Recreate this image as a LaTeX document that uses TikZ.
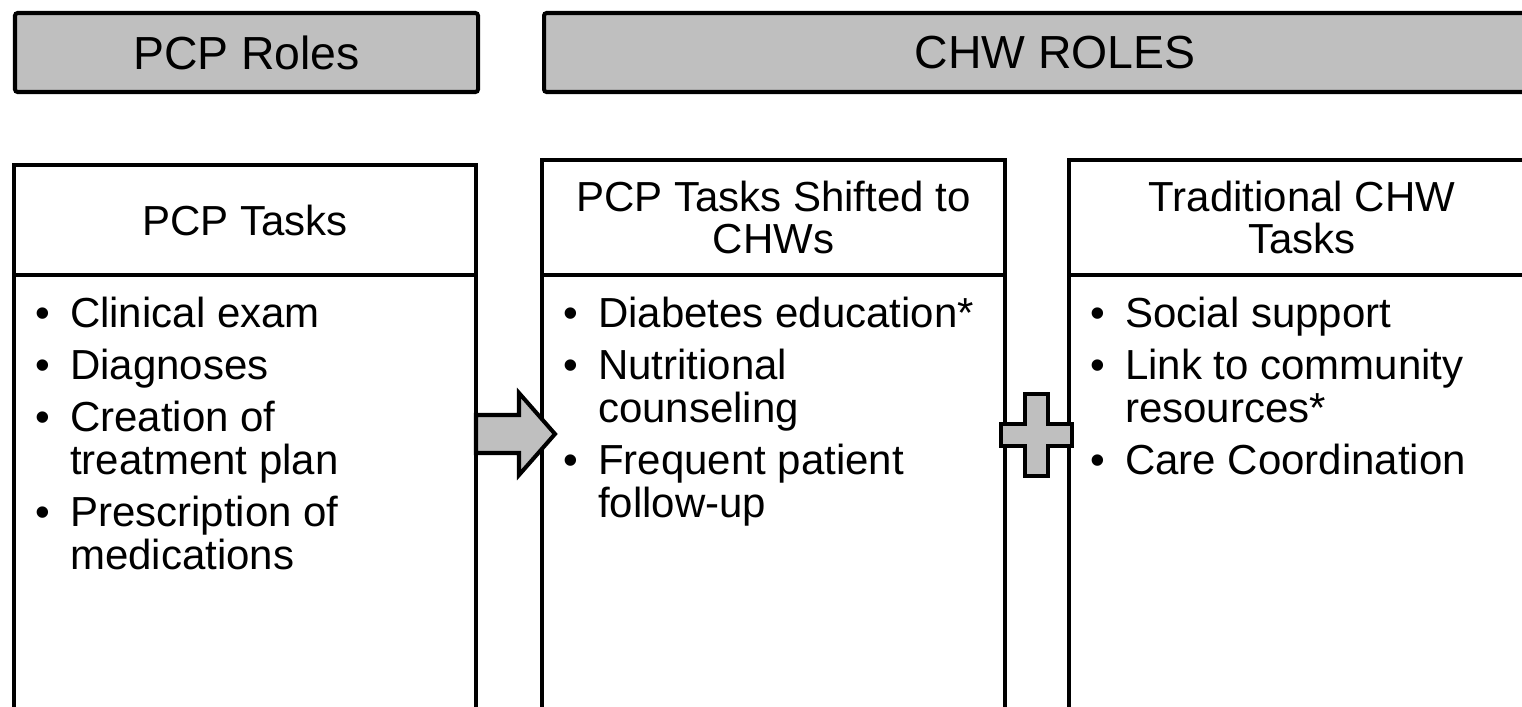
\documentclass[tikz,border=0pt]{standalone}
\usepackage{fontspec}
\setmainfont{Liberation Sans}
\usetikzlibrary{positioning}

\definecolor{boxgray}{RGB}{191,191,191}
\newcommand{\bitem}{\makebox[0.7cm][l]{\textbullet}}
\newcommand{\bcont}{\hspace*{0.7cm}}

\begin{document}
\begin{tikzpicture}[line width=2.3pt,
        rolebox/.style={draw,fill=boxgray,rounded corners=1.5pt,anchor=north west,
          minimum height=1.58cm,font=\fontsize{26.4}{30}\selectfont},
        tasktitle/.style={draw,anchor=north west,outer sep=0pt,align=center,
          font=\fontsize{23.9}{23.5}\selectfont},
        taskbody/.style={draw,outer sep=0pt,minimum height=9cm},
        tasklist/.style={inner sep=0pt,align=left,font=\fontsize{23.9}{24.5}\selectfont},
        plate/.style={draw,fill=boxgray,line join=miter}]

  \useasboundingbox (0,0) rectangle (30.44,14.14);
  \clip (0,0) rectangle (30.44,14.14);

  \node[rolebox,minimum width=9.26cm] (pcproles) at (0.26,13.92) {PCP Roles};
  \node[rolebox,minimum width=20.44cm] (chwroles) at (10.84,13.92) {CHW ROLES};

  \node[tasktitle,minimum width=9.24cm,minimum height=2.2cm] (pcptitle) at (0.28,10.84) {PCP Tasks};
  \node[tasktitle,minimum width=9.26cm,minimum height=2.3cm] (shifttitle) at (10.84,10.94) {PCP Tasks Shifted to\\CHWs};
  \node[tasktitle,minimum width=9.32cm,minimum height=2.3cm] (tradtitle) at (21.38,10.94) {Traditional CHW\\Tasks};

  \node[taskbody,minimum width=9.24cm,below=0cm of pcptitle] (pcpbody) {};
  \node[taskbody,minimum width=9.26cm,below=0cm of shifttitle] (shiftbody) {};
  \node[taskbody,minimum width=9.32cm,below=0cm of tradtitle] (tradbody) {};

  \node[tasklist,below right=0.4cm and 0.38cm of pcpbody.north west] (pcplist)
    {\bitem Clinical exam\\[0.18cm]
     \bitem Diagnoses\\[0.18cm]
     \bitem Creation of\\ \bcont treatment plan\\[0.18cm]
     \bitem Prescription of\\ \bcont medications};
  \node[tasklist,below right=0.4cm and 0.38cm of shiftbody.north west] (shiftlist)
    {\bitem Diabetes education*\\[0.18cm]
     \bitem Nutritional\\ \bcont counseling\\[0.18cm]
     \bitem Frequent patient\\ \bcont follow-up};
  \node[tasklist,below right=0.4cm and 0.38cm of tradbody.north west] (tradlist)
    {\bitem Social support\\[0.18cm]
     \bitem Link to community\\ \bcont resources*\\[0.18cm]
     \bitem Care Coordination};

  \draw[plate] (9.52,5.84) -- (10.38,5.84) -- (10.38,6.28) -- (11.10,5.46)
    -- (10.38,4.64) -- (10.38,5.08) -- (9.52,5.08) -- cycle;
  \draw[plate] (20.50,6.26) -- (20.96,6.26) -- (20.96,5.66) -- (21.44,5.66)
    -- (21.44,5.22) -- (20.96,5.22) -- (20.96,4.62) -- (20.50,4.62)
    -- (20.50,5.22) -- (20.02,5.22) -- (20.02,5.66) -- (20.50,5.66) -- cycle;

\end{tikzpicture}
\end{document}
